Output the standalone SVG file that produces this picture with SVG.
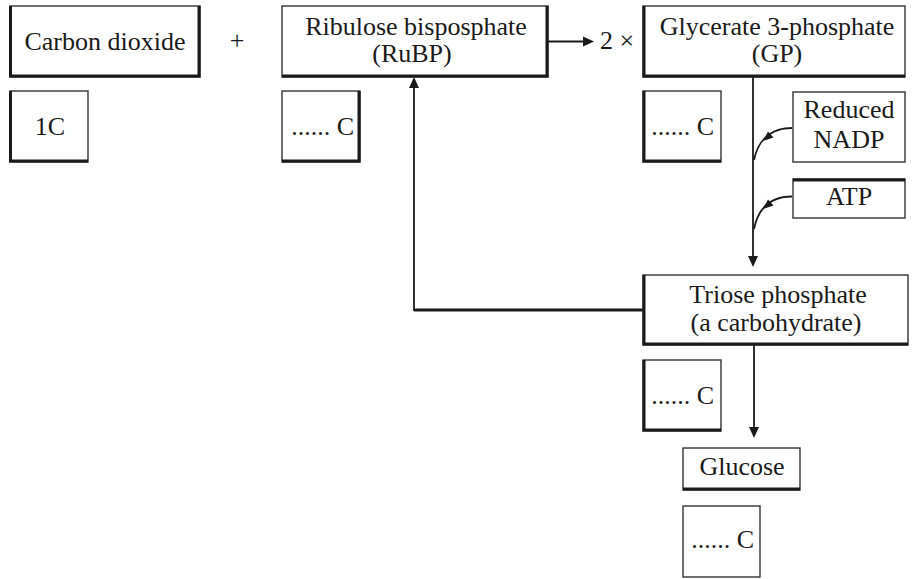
<svg xmlns="http://www.w3.org/2000/svg" width="912" height="579" viewBox="0 0 912 579">
<style>
.box{fill:#fff;stroke:#333;stroke-width:1.4}
.shade{fill:none;stroke:#1a1a1a;stroke-width:3}
.t{font-family:"Liberation Serif","Times New Roman",serif;font-size:26px;fill:#1a1a1a}
.m{text-anchor:middle}
.e{text-anchor:end}
.ln{fill:none;stroke:#1a1a1a;stroke-width:1.8}
.thick{fill:none;stroke:#1a1a1a;stroke-width:3}
.ah{fill:#1a1a1a}
</style>
<rect width="912" height="579" fill="#fff"/>
<g id="connectors">
  <path class="ln" d="M548,41.5 H584"/>
  <polygon class="ah" points="594,41.5 583,36.5 583,46.5"/>
  <path class="ln" d="M753,77 V257"/>
  <polygon class="ah" points="753,267 748,256 758,256"/>
  <path class="ln" d="M792,128 C775,128 759,136 754,160"/>
  <polygon class="ah" points="763,141 768,131.5 773.5,137.5"/>
  <path class="ln" d="M792,196.5 C775,196.5 759,204 754,229"/>
  <polygon class="ah" points="763,209 768,199.5 773.5,205.5"/>
  <path class="thick" d="M643,310 H414"/>
  <path class="ln" d="M414,311 V88"/>
  <polygon class="ah" points="414,77 409,88 419,88"/>
  <path class="ln" d="M754,345 V428"/>
  <polygon class="ah" points="754,438 749,427 759,427"/>
  <text class="t" x="237" y="49" text-anchor="middle">+</text>
  <text class="t" x="600" y="49">2 ×</text>
</g>
<g id="carbon-dioxide">
  <rect class="box" x="10" y="6" width="190" height="71"/>
  <path class="shade" d="M10.5,6 V76 H199 V6"/>
  <text class="t m" x="105" y="50">Carbon dioxide</text>
</g>
<g id="co2-carbons">
  <rect class="box" x="10" y="91" width="78" height="71"/>
  <path class="shade" d="M10.5,91 V161 H88"/>
  <text class="t m" x="50" y="135">1C</text>
</g>
<g id="rubp">
  <rect class="box" x="282" y="6" width="266" height="71"/>
  <path class="shade" d="M282,76 H547 V6"/>
  <text class="t m" x="416" y="35">Ribulose bisposphate</text>
  <text class="t m" x="412" y="62">(RuBP)</text>
</g>
<g id="rubp-carbons">
  <rect class="box" x="282" y="91" width="78" height="71"/>
  <path class="shade" d="M282,161 H359 V91"/>
  <text class="t e" x="354" y="135">...... C</text>
</g>
<g id="gp">
  <rect class="box" x="643" y="6" width="262" height="71"/>
  <path class="shade" d="M644,6 V76 H905"/>
  <text class="t m" x="777" y="35">Glycerate 3-phosphate</text>
  <text class="t m" x="777" y="62">(GP)</text>
</g>
<g id="gp-carbons">
  <rect class="box" x="643" y="91" width="78" height="71"/>
  <path class="shade" d="M644,91 V161 H721"/>
  <text class="t e" x="714" y="135">...... C</text>
</g>
<g id="reduced-nadp">
  <rect class="box" x="793" y="92" width="112" height="70"/>
  <text class="t m" x="849" y="118">Reduced</text>
  <text class="t m" x="849" y="148">NADP</text>
</g>
<g id="atp">
  <rect class="box" x="793" y="179" width="112" height="39"/>
  <path class="shade" d="M793,180 H905"/>
  <text class="t m" x="849" y="205">ATP</text>
</g>
<g id="triose-phosphate">
  <rect class="box" x="643" y="275" width="265" height="70"/>
  <path class="shade" d="M644,275 V344 H908"/>
  <text class="t m" x="778" y="303">Triose phosphate</text>
  <text class="t m" x="776" y="331">(a carbohydrate)</text>
</g>
<g id="triose-carbons">
  <rect class="box" x="643" y="360" width="78" height="71"/>
  <path class="shade" d="M644,360 V430 H721"/>
  <text class="t e" x="714" y="404">...... C</text>
</g>
<g id="glucose">
  <rect class="box" x="683" y="448" width="117" height="42"/>
  <path class="shade" d="M683,489 H800"/>
  <text class="t m" x="742" y="475">Glucose</text>
</g>
<g id="glucose-carbons">
  <rect class="box" x="683" y="506" width="77" height="71"/>
  <text class="t e" x="754" y="548">...... C</text>
</g>
</svg>
